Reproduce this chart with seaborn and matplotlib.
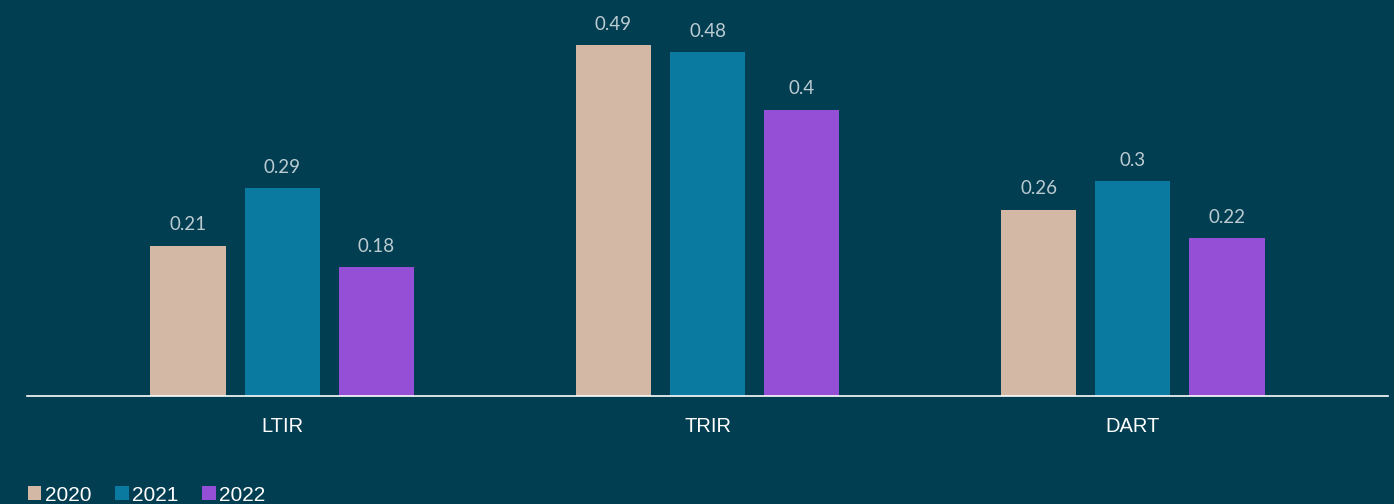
import matplotlib
matplotlib.use("Agg")
import matplotlib.pyplot as plt
from matplotlib.patches import Patch
import seaborn as sns
import pandas as pd

# Safety incidence rates by metric and year
metrics = ["LTIR", "TRIR", "DART"]
years = ["2020", "2021", "2022"]
rates_2020 = [0.21, 0.49, 0.26]
rates_2021 = [0.29, 0.48, 0.30]
rates_2022 = [0.18, 0.40, 0.22]

colors = ["#d3b8a6", "#0b7aa1", "#944fd6"]
bg = "#023e51"
label_color = "#bccbd2"

df = pd.DataFrame({
    "metric": metrics * 3,
    "year": [y for y in years for _ in metrics],
    "rate": rates_2020 + rates_2021 + rates_2022,
})

sns.set_theme(style="white")
plt.rcParams["font.family"] = ["Liberation Sans", "DejaVu Sans"]

fig = plt.figure(figsize=(13.94, 5.04), dpi=100, facecolor=bg)
ax = fig.add_axes([0.0194, 0.2143, 0.9763, 0.7857])
ax.set_facecolor(bg)

sns.barplot(data=df, x="metric", y="rate", hue="year", order=metrics,
            hue_order=years, palette=colors, width=0.664, gap=0.2,
            saturation=1, ax=ax, legend=False, errorbar=None,
            linewidth=0, edgecolor="none")

for cont in ax.containers:
    ax.bar_label(cont, labels=[f"{v:g}" for v in cont.datavalues],
                 padding=9, color=label_color, fontsize=13.5,
                 fontfamily="Lato", fontweight="normal")

ax.set_xlim(-0.6, 2.6)
ax.set_ylim(0, 0.553)
ax.set_xlabel("")
ax.set_ylabel("")
ax.set_yticks([])
for s in ["left", "right", "top"]:
    ax.spines[s].set_visible(False)
ax.spines["bottom"].set_color("white")
ax.spines["bottom"].set_linewidth(1.2)
ax.tick_params(axis="x", length=0, pad=15, labelsize=14.5, labelcolor="white")

handles = [Patch(facecolor=c, edgecolor="none", label=y) for c, y in zip(colors, years)]
fig.legend(handles=handles, loc="lower left", bbox_to_anchor=(0.014, -0.018),
           ncol=3, frameon=False, fontsize=15, labelcolor="white",
           handlelength=0.65, handleheight=0.65, handletextpad=0.15,
           columnspacing=1.15, borderaxespad=0)

fig.savefig("out.png", dpi=100, facecolor=bg)
